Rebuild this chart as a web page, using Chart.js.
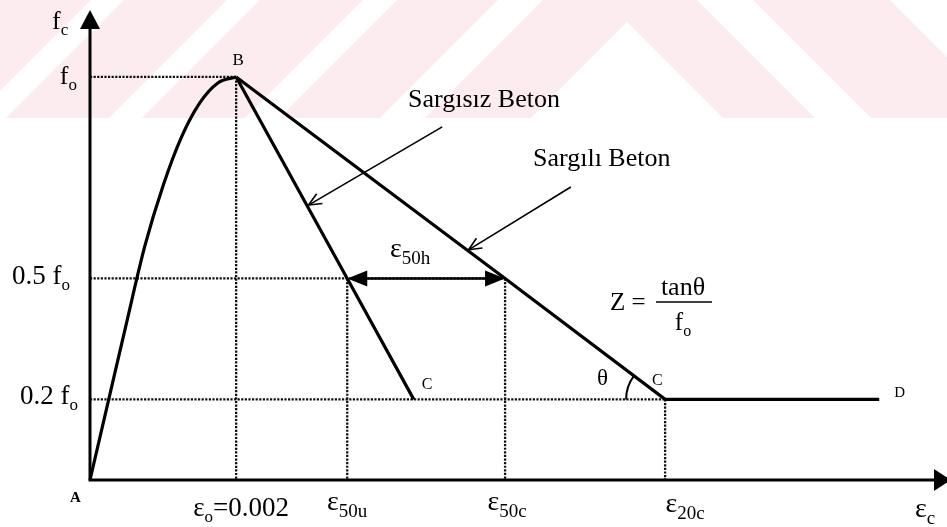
<!DOCTYPE html>
<html>
<head>
<meta charset="utf-8">
<script src="https://cdn.jsdelivr.net/npm/chart.js@4.4.1/dist/chart.umd.min.js"></script>
<style>
  html, body { margin: 0; padding: 0; background: #fff; }
  #wrap { width: 947px; height: 527px; }
</style>
</head>
<body>
<div id="wrap"><canvas id="kentPark" width="947" height="527"></canvas></div>
<script>
// strains (mm/mm) and stress ratios f/fo
const eps0 = 0.002;
const eps50u = 0.00352;
const eps50c = 0.00568;
const eps20c = 0.00787;
const epsEndU = 0.00443;
const epsD = 0.0108;

// ascending branch, points
const riseStrain = [0, 0.00025, 0.0005, 0.00075, 0.001, 0.00125, 0.0015, 0.00175, 0.002];
const riseStress = [0, 0.195, 0.39, 0.58, 0.73, 0.85, 0.935, 0.985, 1];

// descending branches
const unconfinedStrain = [eps0, eps50u, epsEndU];
const unconfinedStress = [1, 0.5, 0.2];
const confinedStrain = [eps0, eps50c, eps20c, epsD];
const confinedStress = [1, 0.5, 0.2, 0.2];

// leader arrows for the two branch notes: [strain, stress] tail -> tip
const noteUnconfined = [[0.00482, 0.876], [0.00299, 0.682]];
const noteConfined = [[0.00658, 0.727], [0.00518, 0.571]];

const xMax = 0.0117;
const yMax = 1.166;

const SERIF = '"Liberation Serif", "Times New Roman", serif';

const pts = (xs, ys) => xs.map((x, i) => ({ x, y: ys[i] }));
const seg = (a, b) => [{ x: a[0], y: a[1] }, { x: b[0], y: b[1] }];

const solid = (data, extra) => Object.assign({
    data, showLine: true, borderColor: '#000', borderWidth: 3.2,
    pointRadius: 0, fill: false, clip: false
}, extra || {});
const dotted = data => solid(data, { borderWidth: 2.3, borderDash: [2.2, 1.4], borderColor: '#111' });

function headFilled(ctx, x, y, ang, len, half) {
    const c = Math.cos(ang), s = Math.sin(ang);
    ctx.beginPath();
    ctx.moveTo(x, y);
    ctx.lineTo(x - len * c + half * s, y - len * s - half * c);
    ctx.lineTo(x - len * c - half * s, y - len * s + half * c);
    ctx.closePath();
    ctx.fill();
}

function headOpen(ctx, x, y, ang, len, spread) {
    ctx.beginPath();
    ctx.moveTo(x - len * Math.cos(ang - spread), y - len * Math.sin(ang - spread));
    ctx.lineTo(x, y);
    ctx.lineTo(x - len * Math.cos(ang + spread), y - len * Math.sin(ang + spread));
    ctx.stroke();
}

// text with a subscript; align: left | center | right
function subText(ctx, base, sub, x, y, size, subSize, align, tail) {
    ctx.font = size + 'px ' + SERIF;
    const wb = ctx.measureText(base).width;
    ctx.font = subSize + 'px ' + SERIF;
    const ws = ctx.measureText(sub).width;
    ctx.font = size + 'px ' + SERIF;
    const wt = tail ? ctx.measureText(tail).width : 0;
    const w = wb + ws + wt;
    let x0 = align === 'right' ? x - w : align === 'center' ? x - w / 2 : x;
    ctx.textAlign = 'left';
    ctx.textBaseline = 'alphabetic';
    ctx.fillText(base, x0, y);
    ctx.font = subSize + 'px ' + SERIF;
    ctx.fillText(sub, x0 + wb, y + subSize * 0.35);
    if (tail) {
        ctx.font = size + 'px ' + SERIF;
        ctx.fillText(tail, x0 + wb + ws, y);
    }
}

function plainText(ctx, str, x, y, size, align, weight) {
    ctx.font = (weight || '') + ' ' + size + 'px ' + SERIF;
    ctx.textAlign = align || 'left';
    ctx.textBaseline = 'alphabetic';
    ctx.fillText(str, x, y);
}

const paper = {
    id: 'paper',
    beforeDraw(chart) {
        const ctx = chart.ctx;
        ctx.save();
        ctx.fillStyle = '#fff';
        ctx.fillRect(0, 0, chart.width, chart.height);
        // faint diagonal band across the top
        ctx.beginPath();
        ctx.rect(0, 0, chart.width, 118);
        ctx.clip();
        ctx.fillStyle = '#fdecef';
        const h = 118;
        [[-12, 91], [124, 227], [260, 363], [397, 498]].forEach(([a, b]) => {
            ctx.beginPath();
            ctx.moveTo(a, 0); ctx.lineTo(b, 0);
            ctx.lineTo(b - h, h); ctx.lineTo(a - h, h);
            ctx.closePath(); ctx.fill();
        });
        ctx.beginPath();
        ctx.moveTo(543, 0); ctx.lineTo(697, 0); ctx.lineTo(815, h);
        ctx.lineTo(723, h); ctx.lineTo(627, 22); ctx.lineTo(531, h);
        ctx.lineTo(425, h); ctx.closePath(); ctx.fill();
        ctx.beginPath();
        ctx.moveTo(753, 0); ctx.lineTo(890, 0); ctx.lineTo(890 + h, h);
        ctx.lineTo(753 + h, h); ctx.closePath(); ctx.fill();
        ctx.restore();
    },
    afterDatasetsDraw(chart) {
        const ctx = chart.ctx;
        const X = v => chart.scales.x.getPixelForValue(v);
        const Y = v => chart.scales.y.getPixelForValue(v);
        const x0 = X(0), y0 = Y(0);
        ctx.save();
        ctx.fillStyle = '#000';
        ctx.strokeStyle = '#000';

        // axes with arrowheads
        ctx.lineWidth = 3;
        ctx.beginPath();
        ctx.moveTo(x0, y0 + 1.5); ctx.lineTo(x0, 24);
        ctx.moveTo(x0 - 1.5, y0); ctx.lineTo(935, y0);
        ctx.stroke();
        headFilled(ctx, x0, 10, -Math.PI / 2, 19, 10);
        headFilled(ctx, 951, y0, 0, 17, 11);

        // eps50h dimension arrow
        const ya = Y(0.5);
        ctx.lineWidth = 2.5;
        ctx.beginPath();
        ctx.moveTo(X(eps50u) + 10, ya); ctx.lineTo(X(eps50c) - 10, ya);
        ctx.stroke();
        headFilled(ctx, X(eps50u), ya, Math.PI, 20, 8);
        headFilled(ctx, X(eps50c), ya, 0, 20, 8);

        // leader arrows
        ctx.lineWidth = 1.6;
        [noteUnconfined, noteConfined].forEach(([t, h]) => {
            const tx = X(t[0]), ty = Y(t[1]), hx = X(h[0]), hy = Y(h[1]);
            ctx.beginPath();
            ctx.moveTo(tx, ty); ctx.lineTo(hx, hy);
            ctx.stroke();
            headOpen(ctx, hx, hy, Math.atan2(hy - ty, hx - tx), 14, 0.42);
        });

        // theta arc at the confined branch corner
        const cx = X(eps20c), cy = Y(0.2);
        const a = Math.atan2(Y(1) - cy, X(eps0) - cx);
        ctx.lineWidth = 2;
        ctx.beginPath();
        ctx.arc(cx, cy, 39, a, -Math.PI, true);
        ctx.stroke();

        // stress labels
        subText(ctx, 'f', 'c', 52, 29, 26, 17, 'left');
        subText(ctx, 'f', 'o', 77, Y(1) + 7, 26, 17, 'right');
        subText(ctx, '0.5 f', 'o', 70, Y(0.5) + 6, 27, 17, 'right');
        subText(ctx, '0.2 f', 'o', 78, Y(0.2) + 5, 27, 17, 'right');

        // strain labels
        subText(ctx, '\u03b5', 'o', X(eps0) + 5, 516, 27, 17, 'center', '=0.002');
        subText(ctx, '\u03b5', '50u', X(eps50u), 510, 28, 19, 'center');
        subText(ctx, '\u03b5', '50c', X(eps50c) + 2, 510, 28, 19, 'center');
        subText(ctx, '\u03b5', '20c', X(eps20c) + 20, 512, 28, 19, 'center');
        subText(ctx, '\u03b5', 'c', 915, 517, 28, 19, 'left');
        subText(ctx, '\u03b5', '50h', X((eps50u + eps50c) / 2) - 16, 257, 28, 19, 'center');

        // point letters
        plainText(ctx, 'A', x0 - 20, 502, 15, 'left', 'bold');
        plainText(ctx, 'B', X(eps0) + 2, Y(1) - 12, 17, 'center');
        plainText(ctx, 'C', X(epsEndU) + 8, Y(0.2) - 10, 16);
        plainText(ctx, 'C', cx - 13, cy - 14, 16);
        plainText(ctx, 'D', X(epsD) + 15, Y(0.2) - 2, 15);
        plainText(ctx, '\u03b8', 597, 385, 23);

        // branch notes
        plainText(ctx, 'Sarg\u0131s\u0131z Beton', 408, 107, 26);
        plainText(ctx, 'Sarg\u0131l\u0131 Beton', 533, 166, 26);

        // Z = tan(theta) / fo
        plainText(ctx, 'Z =', 610, 310, 25);
        plainText(ctx, 'tan\u03b8', 683, 295, 26, 'center');
        ctx.lineWidth = 1.5;
        ctx.beginPath();
        ctx.moveTo(656, 302); ctx.lineTo(712, 302);
        ctx.stroke();
        subText(ctx, 'f', 'o', 683, 330, 25, 16, 'center');

        ctx.restore();
    }
};

new Chart(document.getElementById('kentPark'), {
    type: 'scatter',
    data: {
        datasets: [
            solid(pts(riseStrain, riseStress), { cubicInterpolationMode: 'monotone' }),
            solid(pts(unconfinedStrain, unconfinedStress)),
            solid(pts(confinedStrain, confinedStress)),
            dotted(seg([0, 1], [eps0, 1])),
            dotted(seg([eps0, 1], [eps0, 0])),
            dotted(seg([0, 0.5], [eps50c, 0.5])),
            dotted(seg([eps50u, 0.5], [eps50u, 0])),
            dotted(seg([eps50c, 0.5], [eps50c, 0])),
            dotted(seg([0, 0.2], [eps20c, 0.2])),
            dotted(seg([eps20c, 0.2], [eps20c, 0]))
        ]
    },
    options: {
        responsive: false,
        animation: false,
        devicePixelRatio: 1,
        layout: { padding: { left: 90, right: 2, top: 10, bottom: 47 } },
        plugins: { legend: { display: false }, tooltip: { enabled: false } },
        scales: {
            x: { type: 'linear', min: 0, max: xMax, display: false },
            y: { type: 'linear', min: 0, max: yMax, display: false }
        }
    },
    plugins: [paper]
});
</script>
</body>
</html>
